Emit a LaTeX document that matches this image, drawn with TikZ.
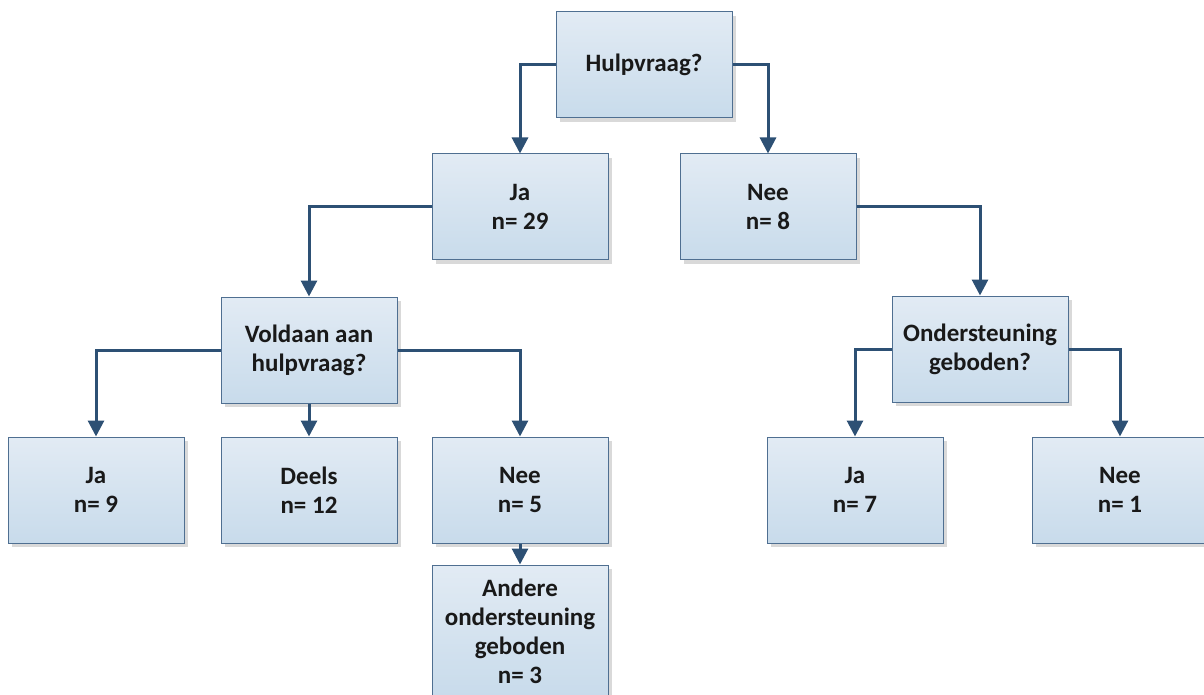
\documentclass[tikz,border=0pt]{standalone}
\usepackage{fontspec}
\setmainfont{Carlito}
\usepackage{xcolor}
\usetikzlibrary{positioning, arrows.meta, shadows}

\definecolor{boxtop}{HTML}{E2EBF4}
\definecolor{boxbot}{HTML}{C8DBEB}
\definecolor{boxline}{HTML}{4F6F91}
\definecolor{conncol}{HTML}{2D5074}
\definecolor{shadowcol}{HTML}{D9D9D9}

\tikzset{
    qbox/.style={rectangle,
        draw=boxline, line width=0.5pt,
        top color=boxtop, bottom color=boxbot,
        general shadow={fill=shadowcol, shadow xshift=2pt, shadow yshift=-2pt},
        minimum width=88pt, minimum height=53pt,
        align=center, text=black!90,
        font=\fontsize{12.5}{14.5}\selectfont\bfseries},
    conn/.style={draw=conncol, line width=1.5pt,
        -{Triangle[width=8pt,length=8pt]}}
}

\begin{document}
\begin{tikzpicture}[x=0.5pt, y=-0.5pt]
    \useasboundingbox (0,0) rectangle (1204,695);
    % Add the questions
        \node[qbox] (hulp) at (644,65) {Hulpvraag?};
        \node[qbox] (ja29) at (520,207) {Ja\\n= 29};
        \node[qbox] (nee8) at (768,207) {Nee\\n= 8};
		\node[qbox] (voldaan) at (309,350) {Voldaan aan\\hulpvraag?};
		\node[qbox] (onder) at (980,349) {Ondersteuning\\geboden?};
    % Add the answers
		\node[qbox] (ja9) at (96,490) {Ja\\n= 9};
		\node[qbox] (deels) at (309,490) {Deels\\n= 12};
		\node[qbox] (nee5) at (520,490) {Nee\\n= 5};
		\node[qbox,
			below=10.5pt of nee5,
			minimum height=66pt
			] (andere) {Andere\\ondersteuning\\geboden\\n= 3};
		\node[qbox] (ja7) at (855,490) {Ja\\n= 7};
		\node[qbox] (nee1) at (1120,490) {Nee\\n= 1};

       \draw[conn] (hulp.west) -| (ja29.north);
       \draw[conn] (hulp.east) -| (nee8.north);
       \draw[conn] (ja29.west) -| (voldaan.north);
       \draw[conn] (nee8.east) -| (onder.north);
       \draw[conn] (voldaan.west) -| (ja9.north);
       \draw[conn] (voldaan.south) -- (deels.north);
       \draw[conn] (voldaan.east) -| (nee5.north);
       \draw[conn] (nee5.south) -- (andere.north);
       \draw[conn] (onder.west) -| (ja7.north);
       \draw[conn] (onder.east) -| (nee1.north);
    \end{tikzpicture}
\end{document}
